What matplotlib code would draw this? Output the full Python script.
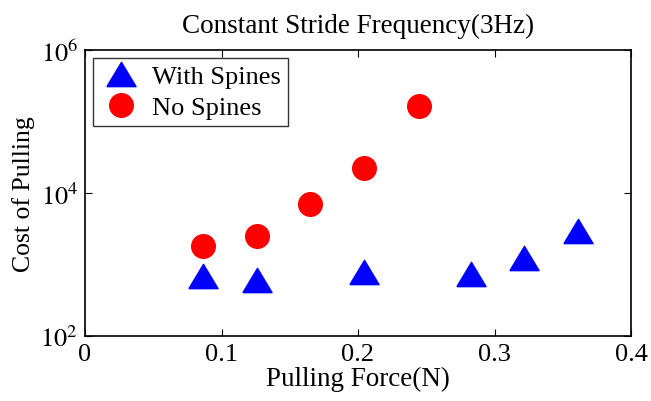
import matplotlib
matplotlib.use("Agg")
import matplotlib.pyplot as plt

plt.rcParams['font.family'] = ['Liberation Serif', 'DejaVu Serif']
plt.rcParams['mathtext.fontset'] = 'stix'

# data
force_spines = [0.0865, 0.126, 0.2045, 0.283, 0.3215, 0.361]
cost_spines = [690, 610, 790, 735, 1230, 2940]
force_nospines = [0.0865, 0.126, 0.165, 0.2045, 0.2445]
cost_nospines = [1815, 2500, 7000, 22400, 165000]
xticks = [0, 0.1, 0.2, 0.3, 0.4]
yticks = [1e2, 1e4, 1e6]

# wide triangle like MATLAB's
tri = [(-1.2, -1), (1.2, -1), (0, 1), (-1.2, -1)]

fig = plt.figure(figsize=(6.51, 4.02), dpi=100)
ax = fig.add_axes([85 / 651, 1 - 337 / 402, 546 / 651, 286 / 402])

ax.plot(force_spines, cost_spines, linestyle='none', marker=tri,
        markersize=21, color='blue', markeredgecolor='blue', label='With Spines')
ax.plot(force_nospines, cost_nospines, linestyle='none', marker='o',
        markersize=17, color='red', markeredgecolor='red', label='No Spines')

ax.set_yscale('log')
ax.set_xlim(0, 0.4)
ax.set_ylim(1e2, 1e6)
ax.set_xticks(xticks)
ax.set_xticklabels(['0', '0.1', '0.2', '0.3', '0.4'])
ax.set_yticks(yticks)
ax.set_yticklabels([r'$10^2$', r'$10^4$', r'$10^6$'])
ax.minorticks_off()
ax.tick_params(direction='in', top=True, right=True, length=5, width=0.8,
               labelsize=19, pad=5)
for s in ax.spines.values():
    s.set_linewidth(1.2)

ax.set_title('Constant Stride Frequency(3Hz)', fontsize=19.5, pad=13)
ax.set_xlabel('Pulling Force(N)', fontsize=19.5, labelpad=1)
ax.set_ylabel('Cost of Pulling', fontsize=18.5, labelpad=4)

leg = ax.legend(loc='upper left', fontsize=19, frameon=True, fancybox=False,
                edgecolor='black', borderaxespad=0.3, handletextpad=0.4,
                labelspacing=0.3, borderpad=0.25, handlelength=1.6)
leg.get_frame().set_linewidth(1.0)

fig.savefig('out.png', dpi=100)
